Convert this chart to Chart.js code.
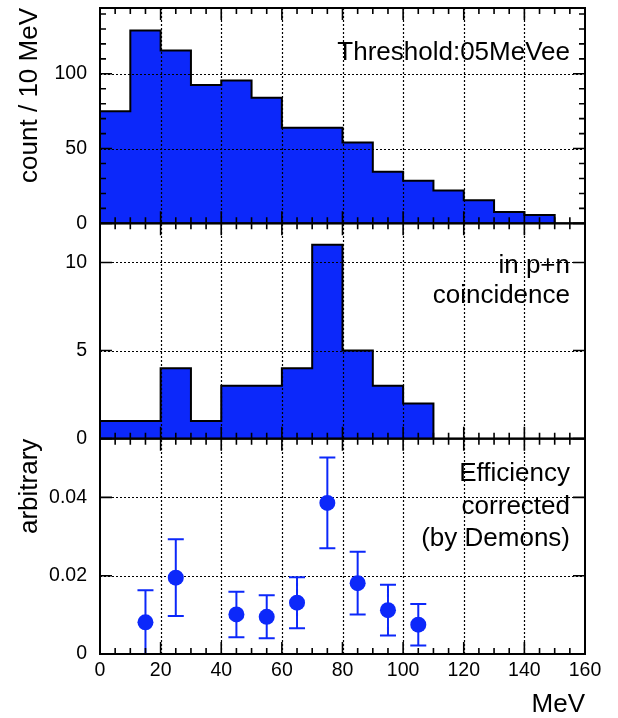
<!DOCTYPE html>
<html><head><meta charset="utf-8">
<style>html,body{margin:0;padding:0;background:#fff}canvas{display:block}</style>
<script src="https://cdn.jsdelivr.net/npm/chart.js@4.4.1/dist/chart.umd.min.js"></script>
</head><body>
<canvas id="c" width="618" height="718"></canvas>
<script>
// ---- data ----
const binWidth = 10;
const allEdges = [0,10,20,30,40,50,60,70,80,90,100,110,120,130,140];
const allCounts = [75,129,115.5,92.5,95.5,84,64,64,54,34.5,28.5,22,15.5,7.5,5.5];
const coincEdges = [0,10,20,30,40,50,60,70,80,90,100];
const coincCounts = [1,1,4,1,3,3,4,11,5,3,2];
const effX = [15,25,45,55,65,75,85,95,105];
const effY = [0.0081,0.0195,0.0101,0.0095,0.0131,0.0386,0.0181,0.0112,0.0075];
const effErr = [0.0082,0.0098,0.0058,0.0055,0.0065,0.0116,0.0080,0.0065,0.0053];
const xTicks = [0,20,40,60,80,100,120,140,160];
const allTicks = [0,50,100];
const coincTicks = [0,5,10];
const effTicks = [0,0.02,0.04];

// ---- style ----
const BLUE = 'rgb(12,40,250)';
const FONT = 'Liberation Sans';
const tickFont = {family: FONT, size: 19.5};
const titleFont = {family: FONT, size: 26};

function histData(edges, vals) {
  const d = edges.map((e, i) => ({x: e, y: vals[i]}));
  d.push({x: edges[edges.length - 1] + binWidth, y: 0});
  return d;
}
function yScale(ticks, max, title) {
  return {
    type: 'linear', position: 'left', stack: 'panels', stackWeight: 1,
    min: 0, max: max,
    grid: {display: false, drawTicks: false}, border: {display: false},
    afterBuildTicks: s => { s.ticks = ticks.map(v => ({value: v})); },
    afterFit: s => { s.width = 100; s.paddingTop = 0; s.paddingBottom = 0; },
    ticks: {font: tickFont, color: '#000', padding: 13, callback: v => String(v)},
    title: title ? {display: true, text: title, align: 'end', font: titleFont, color: '#000', padding: {top: 14, bottom: 0}} : {display: false}
  };
}

const panels = [
  {id: 'yAll', major: allTicks, minorStep: 10},
  {id: 'yCoinc', major: coincTicks, minorStep: 0},
  {id: 'yEff', major: effTicks, minorStep: 0}
];

function drawGrid(chart) {
  const ctx = chart.ctx, ca = chart.chartArea, xs = chart.scales.x;
  ctx.save();
  ctx.strokeStyle = '#000';
  ctx.lineWidth = 1.2;
  ctx.setLineDash([2, 2]);
  ctx.beginPath();
  xTicks.slice(1, -1).forEach(v => {
    const px = Math.round(xs.getPixelForValue(v)) + 0.5;
    ctx.moveTo(px, ca.top); ctx.lineTo(px, ca.bottom);
  });
  panels.forEach(p => {
    const s = chart.scales[p.id];
    p.major.filter(v => v > 0).forEach(v => {
      const py = Math.round(s.getPixelForValue(v)) + 0.5;
      ctx.moveTo(ca.left, py); ctx.lineTo(ca.right, py);
    });
  });
  ctx.stroke();
  ctx.restore();
}

function drawErrorBars(chart) {
  const ctx = chart.ctx, xs = chart.scales.x, ys = chart.scales.yEff, ca = chart.chartArea;
  ctx.save();
  ctx.beginPath(); ctx.rect(ca.left, ys.top, ca.right - ca.left, ys.bottom - ys.top); ctx.clip();
  ctx.strokeStyle = BLUE; ctx.lineWidth = 2;
  ctx.beginPath();
  effX.forEach((x, i) => {
    const px = xs.getPixelForValue(x);
    const lo = ys.getPixelForValue(effY[i] - effErr[i]);
    const hi = ys.getPixelForValue(effY[i] + effErr[i]);
    ctx.moveTo(px, lo); ctx.lineTo(px, hi);
    ctx.moveTo(px - 8, lo); ctx.lineTo(px + 8, lo);
    ctx.moveTo(px - 8, hi); ctx.lineTo(px + 8, hi);
  });
  ctx.stroke();
  ctx.restore();
}

function drawFrames(chart) {
  const ctx = chart.ctx, ca = chart.chartArea, xs = chart.scales.x;
  ctx.save();
  ctx.strokeStyle = '#000';
  panels.forEach(p => {
    const s = chart.scales[p.id];
    const top = s.top, bot = s.bottom;
    ctx.lineWidth = 1.6;
    ctx.beginPath();
    for (let v = 0; v <= 160; v += 5) {
      const px = xs.getPixelForValue(v);
      const len = (v % 20 === 0) ? 12 : 6;
      ctx.moveTo(px, bot); ctx.lineTo(px, bot - len);
      ctx.moveTo(px, top); ctx.lineTo(px, top + len);
    }
    const vals = [];
    p.major.forEach(v => vals.push([v, 12]));
    if (p.minorStep) {
      for (let v = 0; v <= s.max; v += p.minorStep) {
        if (!p.major.includes(v)) vals.push([v, 6]);
      }
    }
    vals.forEach(([v, len]) => {
      const py = s.getPixelForValue(v);
      ctx.moveTo(ca.left, py); ctx.lineTo(ca.left + len, py);
      ctx.moveTo(ca.right, py); ctx.lineTo(ca.right - len, py);
    });
    ctx.stroke();
    ctx.lineWidth = 2;
    ctx.strokeRect(ca.left, top, ca.right - ca.left, bot - top);
  });
  ctx.restore();
}

function drawTexts(chart) {
  const ctx = chart.ctx, ca = chart.chartArea;
  const tA = chart.scales.yAll.top, tC = chart.scales.yCoinc.top, tE = chart.scales.yEff.top;
  ctx.save();
  ctx.font = '26px ' + FONT;
  ctx.fillStyle = '#000';
  ctx.textAlign = 'right';
  ctx.textBaseline = 'alphabetic';
  const x = ca.right - 15;
  ctx.fillText('Threshold:05MeVee', x, tA + 52);
  ctx.fillText('in p+n', x, tC + 50);
  ctx.fillText('coincidence', x, tC + 80);
  ctx.fillText('Efficiency', x, tE + 42);
  ctx.fillText('corrected', x, tE + 75);
  ctx.fillText('(by Demons)', x, tE + 107);
  ctx.restore();
}

const panelPlugin = {
  id: 'panels',
  beforeDatasetDraw(chart, args) {
    if (args.index === 0) { drawGrid(chart); drawErrorBars(chart); }
  },
  afterDraw(chart) { drawFrames(chart); drawTexts(chart); }
};

new Chart(document.getElementById('c'), {
  type: 'line',
  data: {
    datasets: [
      {type: 'scatter', data: effX.map((x, i) => ({x: x, y: effY[i]})), yAxisID: 'yEff',
       pointRadius: 8, pointBackgroundColor: BLUE, pointBorderWidth: 0, showLine: false},
      {data: histData(allEdges, allCounts), yAxisID: 'yAll', stepped: true, fill: 'origin',
       backgroundColor: BLUE, borderColor: '#000', borderWidth: 2, pointRadius: 0, tension: 0},
      {data: histData(coincEdges, coincCounts), yAxisID: 'yCoinc', stepped: true, fill: 'origin',
       backgroundColor: BLUE, borderColor: '#000', borderWidth: 2, pointRadius: 0, tension: 0}
    ]
  },
  options: {
    responsive: false, animation: false, devicePixelRatio: 1,
    layout: {padding: {top: 5, right: 33, left: 0, bottom: 0}},
    plugins: {legend: {display: false}, tooltip: {enabled: false}},
    scales: {
      x: {
        type: 'linear', position: 'bottom', min: 0, max: 160,
        grid: {display: false, drawTicks: false}, border: {display: false},
        afterBuildTicks: s => { s.ticks = xTicks.map(v => ({value: v})); },
        afterFit: s => { s.height = 64; s.paddingLeft = 0; s.paddingRight = 0; },
        ticks: {font: tickFont, color: '#000', padding: 5, maxRotation: 0, autoSkip: false},
        title: {display: true, text: 'MeV', align: 'end', color: '#000',
                font: {family: FONT, size: 26, lineHeight: 1}, padding: 0}
      },
      // left-stacked axes are placed in reverse declaration order (last = top)
      yEff: yScale(effTicks, 0.055, 'arbitrary'),
      yCoinc: yScale(coincTicks, 12.22, null),
      yAll: yScale(allTicks, 144, 'count / 10 MeV')
    }
  },
  plugins: [panelPlugin]
});
</script>
</body></html>
